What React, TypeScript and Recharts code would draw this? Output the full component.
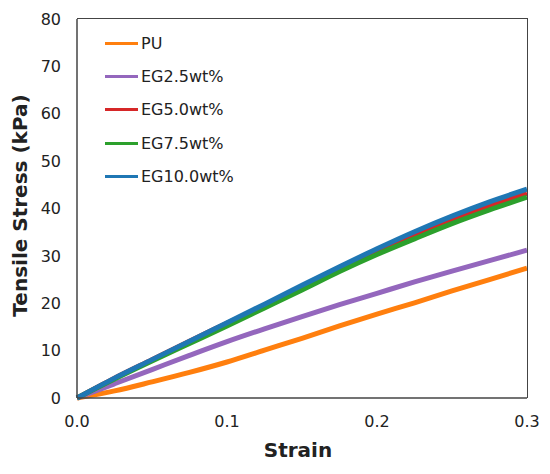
import { LineChart, Line, XAxis, YAxis, Legend } from "recharts";

const strain = [0, 0.025, 0.05, 0.075, 0.1, 0.125, 0.15, 0.175, 0.2, 0.225, 0.25, 0.275, 0.3];
const pu = [0, 1.5, 3.4, 5.4, 7.6, 10.1, 12.6, 15.2, 17.7, 20.1, 22.6, 25.0, 27.4];
const eg25 = [0, 3.0, 6.0, 9.0, 11.9, 14.6, 17.2, 19.7, 22.1, 24.5, 26.8, 29.0, 31.2];
const eg50 = [0, 4.2, 8.1, 12.0, 15.8, 19.6, 23.5, 27.3, 31.0, 34.5, 37.7, 40.6, 43.2];
const eg75 = [0, 4.0, 7.8, 11.5, 15.2, 19.0, 22.8, 26.7, 30.3, 33.6, 36.8, 39.7, 42.4];
const eg100 = [0, 4.2, 8.1, 12.0, 15.9, 19.8, 23.8, 27.7, 31.5, 35.1, 38.4, 41.4, 44.1];

const xTicks = [0, 0.1, 0.2, 0.3];
const yTicks = [0, 10, 20, 30, 40, 50, 60, 70, 80];

const series = [
  { key: "pu", name: "PU", color: "#ff7f0e" },
  { key: "eg25", name: "EG2.5wt%", color: "#9467bd" },
  { key: "eg50", name: "EG5.0wt%", color: "#d62728" },
  { key: "eg75", name: "EG7.5wt%", color: "#2ca02c" },
  { key: "eg100", name: "EG10.0wt%", color: "#1f77b4" },
];

const data = strain.map((s, i) => ({
  strain: s,
  pu: pu[i],
  eg25: eg25[i],
  eg50: eg50[i],
  eg75: eg75[i],
  eg100: eg100[i],
}));

const W = 550;
const H = 474;
const margin = { top: 19, right: 23, bottom: 26, left: 22 };
const yAxisW = 55;
const xAxisH = 50;

const font = "'DejaVu Sans', sans-serif";
const axisColor = "#444";
const axisLine = { stroke: axisColor, strokeWidth: 1.5 };
const tickStyle = { fill: "#222", fontSize: 16, fontFamily: font };

function LegendBox() {
  return (
    <div style={{ fontFamily: font, fontSize: 16, color: "#222" }}>
      {series.map((s) => (
        <div key={s.key} style={{ display: "flex", alignItems: "center", height: 33.2 }}>
          <div style={{ width: 33, height: 3, background: s.color, marginRight: 3 }} />
          <span>{s.name}</span>
        </div>
      ))}
    </div>
  );
}

export default function App() {
  // top + right edges of the plot box, from the same margins the chart uses
  const plotLeft = margin.left + yAxisW;
  const plotBottom = H - margin.bottom - xAxisH;
  const plotRight = W - margin.right;
  const frame = {
    left: plotLeft,
    top: margin.top - 0.75,
    width: plotRight + 0.75 - plotLeft,
    height: plotBottom - (margin.top - 0.75),
  };

  return (
    <div style={{ position: "absolute", left: 0, top: 0, width: W, height: H, background: "#fff" }}>
      <LineChart width={W} height={H} data={data} margin={margin}>
        <XAxis
          dataKey="strain"
          type="number"
          domain={[0, 0.3]}
          ticks={xTicks}
          tickFormatter={(v: number) => v.toFixed(1)}
          tick={tickStyle}
          tickSize={0}
          tickMargin={18}
          height={xAxisH}
          axisLine={axisLine}
          label={({ viewBox }: any) => (
            <text
              x={viewBox.x + viewBox.width / 2 - 4}
              y={viewBox.y + 52}
              textAnchor="middle"
              dominantBaseline="central"
              fontFamily={font}
              fontSize={20}
              fontWeight="bold"
              fill="#222"
            >
              Strain
            </text>
          )}
        />
        <YAxis
          type="number"
          domain={[0, 80]}
          ticks={yTicks}
          tick={tickStyle}
          tickSize={0}
          tickMargin={16}
          width={yAxisW}
          axisLine={axisLine}
          label={({ viewBox }: any) => {
            const x = viewBox.x - 2;
            const y = viewBox.y + viewBox.height / 2 - 3;
            return (
              <text
                x={x}
                y={y}
                transform={`rotate(-90, ${x}, ${y})`}
                textAnchor="middle"
                dominantBaseline="central"
                fontFamily={font}
                fontSize={20}
                fontWeight="bold"
                fill="#222"
              >
                Tensile Stress (kPa)
              </text>
            );
          }}
        />
        <Legend
          layout="vertical"
          align="center"
          verticalAlign="middle"
          content={() => <LegendBox />}
          wrapperStyle={{ left: 105, top: 27, width: 140, height: 170 }}
        />
        {series.map((s) => (
          <Line
            key={s.key}
            type="monotone"
            dataKey={s.key}
            name={s.name}
            stroke={s.color}
            strokeWidth={5}
            dot={false}
            isAnimationActive={false}
          />
        ))}
      </LineChart>
      <div
        style={{
          position: "absolute",
          left: frame.left,
          top: frame.top,
          width: frame.width,
          height: frame.height,
          boxSizing: "border-box",
          borderTop: `1.5px solid ${axisColor}`,
          borderRight: `1.5px solid ${axisColor}`,
          pointerEvents: "none",
        }}
      />
    </div>
  );
}
